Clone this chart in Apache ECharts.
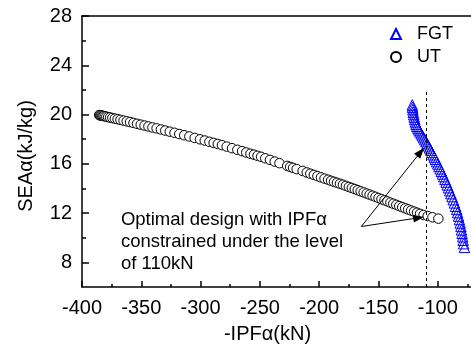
<!DOCTYPE html>
<html><head><meta charset="utf-8">
<script src="https://cdn.jsdelivr.net/npm/echarts@6/dist/echarts.min.js"></script>
<style>html,body{margin:0;padding:0;background:#fff}#c{width:471px;height:354px}</style>
</head><body><div id="c"></div>
<script>
// UT series
const utX = [-385.5,-385,-384.3,-383.6,-382.8,-381.9,-380.8,-379.5,-378,-376.3,-374.4,-372.3,-370,-367.6,-365,-362.3,-359.5,-356.6,-353.6,-350.5,-347.3,-344,-340.6,-337.1,-333.5,-329.8,-326,-322,-318,-313.8,-309.5,-305,-300.5,-296.5,-292.6,-289,-285.5,-282,-278,-273.5,-269,-265,-261.5,-258,-255,-252,-249,-245.5,-241.5,-237.5,-233.5,-227,-224.5,-222,-219,-214,-210.5,-207.5,-204.5,-201.5,-198.5,-195.5,-192.5,-190,-187.5,-185,-182.5,-180,-177.5,-175,-172.5,-170,-167.5,-165,-162.5,-160,-157.5,-155,-152.5,-150,-147.5,-145,-142.5,-140,-137.5,-135,-132.5,-130,-127.5,-125,-122.5,-120,-117.5,-115,-112,-108.5,-104.5,-99.5];
const utY = [19.96,19.95,19.93,19.92,19.9,19.88,19.86,19.83,19.79,19.76,19.72,19.67,19.62,19.57,19.51,19.45,19.39,19.32,19.25,19.18,19.11,19.03,18.95,18.88,18.79,18.7,18.61,18.52,18.42,18.32,18.22,18.1,17.99,17.89,17.79,17.7,17.61,17.52,17.4,17.27,17.14,17.03,16.92,16.82,16.74,16.65,16.57,16.45,16.32,16.18,16.05,15.83,15.75,15.67,15.57,15.42,15.3,15.2,15.1,15.0,14.9,14.8,14.71,14.62,14.54,14.46,14.38,14.3,14.21,14.12,14.04,13.95,13.86,13.77,13.68,13.59,13.5,13.41,13.32,13.22,13.13,13.04,12.95,12.85,12.76,12.67,12.57,12.48,12.39,12.3,12.21,12.12,12.03,11.94,11.85,11.76,11.66,11.55];
// FGT series
const fgtX = [-121.5,-121.3,-121.0,-120.7,-120.3,-119.9,-119.4,-118.9,-118.3,-117.6,-116.8,-115.9,-115.0,-114.0,-113.0,-112.0,-111.0,-110.0,-109.0,-108.0,-107.0,-106.0,-105.0,-104.0,-103.0,-102.0,-101.0,-100.0,-99.0,-98.0,-97.0,-96.0,-95.0,-94.0,-93.0,-92.0,-91.0,-90.0,-89.0,-88.0,-87.0,-86.0,-85.0,-84.1,-83.3,-82.5,-81.8,-81.1,-80.5,-80.0,-79.5,-79.0,-78.6,-78.2,-77.5];
const fgtY = [20.78,20.6,20.4,20.2,20.0,19.8,19.6,19.4,19.22,19.05,18.9,18.75,18.6,18.44,18.28,18.12,17.96,17.8,17.63,17.46,17.29,17.11,16.93,16.74,16.55,16.37,16.18,15.99,15.79,15.59,15.39,15.18,14.96,14.74,14.52,14.29,14.06,13.82,13.58,13.34,13.09,12.83,12.56,12.3,12.04,11.76,11.48,11.2,10.92,10.64,10.36,10.08,9.8,9.52,9.22];
// ticks
const xLabelTicks = [-400,-350,-300,-250,-200,-150,-100];
const xMinorTicks = [-375,-325,-275,-225,-175,-125,-75];
const yLabelTicks = [8,12,16,20,24,28];
const yMinorTicks = [10,14,18,22,26];
// annotations (data units)
const limitIPF = -110;
const limitTop = 21.85;
const arrowStart = [-164.5, 10.91];
const arrowEnds = [[-114.5, 16.96], [-116.1, 11.62]];
const noteAt = [-367.2, 9.67];
const noteText = 'Optimal design with IPF\u03b1\nconstrained under the level\nof 110kN';

const FONT = "'Liberation Sans', Arial, sans-serif";
const X_MIN = -400, X_MAX = -72, Y_MIN = 6, Y_MAX = 28;
const zip = (a, b) => a.map((v, i) => [v, b[i]]);

const chart = echarts.init(document.getElementById('c'), null, {renderer: 'canvas'});
const axLine = {show: true, lineStyle: {color: '#000', width: 1.5}};
chart.setOption({
  animation: false,
  backgroundColor: '#fff',
  grid: {left: 82, top: 16, width: 390, height: 271, containLabel: false},
  legend: {
    data: ['FGT', 'UT'], orient: 'vertical', left: 390, top: 25, padding: 0,
    itemWidth: 10, itemHeight: 10, itemGap: 5, symbolKeepAspect: true,
    textStyle: {fontFamily: FONT, fontSize: 18, color: '#000', padding: [0, 0, 0, 11]}
  },
  xAxis: [
    {type: 'value', min: X_MIN, max: X_MAX, position: 'bottom',
     axisLine: axLine, splitLine: {show: false},
     axisTick: {inside: true, length: 6, lineStyle: {color: '#000', width: 1.5}, customValues: xLabelTicks},
     axisLabel: {customValues: xLabelTicks, fontFamily: FONT, fontSize: 20, color: '#000', margin: 11},
     name: '-IPF\u03b1(kN)', nameLocation: 'middle', nameGap: 37,
     nameTextStyle: {fontFamily: FONT, fontSize: 20, color: '#000', padding: [0, 18, 0, 0]}},
    {type: 'value', min: X_MIN, max: X_MAX, position: 'bottom',
     axisLine: {show: false}, splitLine: {show: false},
     axisTick: {inside: true, length: 3, lineStyle: {color: '#000', width: 1.5}, customValues: xMinorTicks},
     axisLabel: {show: false}},
    {type: 'value', min: X_MIN, max: X_MAX, position: 'top',
     axisLine: axLine, splitLine: {show: false}, axisTick: {show: false}, axisLabel: {show: false}}
  ],
  yAxis: [
    {type: 'value', min: Y_MIN, max: Y_MAX, position: 'left',
     axisLine: axLine, splitLine: {show: false},
     axisTick: {inside: true, length: 7, lineStyle: {color: '#000', width: 1.5}, customValues: yLabelTicks},
     axisLabel: {customValues: yLabelTicks, fontFamily: FONT, fontSize: 20, color: '#000', margin: 10},
     name: 'SEA\u03b1(kJ/kg)', nameLocation: 'middle', nameGap: 46,
     nameTextStyle: {fontFamily: FONT, fontSize: 20, color: '#000', padding: [0, 9, 0, 0]}},
    {type: 'value', min: Y_MIN, max: Y_MAX, position: 'left',
     axisLine: {show: false}, splitLine: {show: false},
     axisTick: {inside: true, length: 4, lineStyle: {color: '#000', width: 1.5}, customValues: yMinorTicks},
     axisLabel: {show: false}}
  ],
  series: [
    {name: 'FGT', type: 'scatter', xAxisIndex: 0, yAxisIndex: 0,
     symbol: 'triangle', symbolSize: 10.5,
     itemStyle: {color: 'rgba(255,255,255,0)', borderColor: '#0000ff', borderWidth: 1, opacity: 1},
     emphasis: {disabled: true},
     data: zip(fgtX, fgtY)},
    {name: 'UT', type: 'scatter', xAxisIndex: 0, yAxisIndex: 0,
     symbol: 'circle', symbolSize: 9.5,
     itemStyle: {color: '#fff', borderColor: '#000', borderWidth: 1, opacity: 1},
     emphasis: {disabled: true},
     data: zip(utX, utY),
     markLine: {
       silent: true, animation: false,
       label: {show: false}, emphasis: {disabled: true},
       data: [
         [{coord: [limitIPF, Y_MIN], symbol: 'none', lineStyle: {type: [3, 3], color: '#000', width: 1}},
          {coord: [limitIPF, limitTop], symbol: 'none'}],
         [{coord: arrowStart, symbol: 'none', lineStyle: {type: 'solid', color: '#000', width: 1}},
          {coord: arrowEnds[0], symbol: 'triangle', symbolSize: [8, 11]}],
         [{coord: arrowStart, symbol: 'none', lineStyle: {type: 'solid', color: '#000', width: 1}},
          {coord: arrowEnds[1], symbol: 'triangle', symbolSize: [8, 11]}]
       ],
       itemStyle: {color: '#000'}
     },
     markPoint: {
       silent: true, animation: false,
       symbol: 'circle', symbolSize: 0,
       data: [{coord: noteAt, value: 0}],
       label: {show: true, position: [0, 0], align: 'left', verticalAlign: 'middle',
               formatter: () => noteText, fontFamily: FONT, fontSize: 18.5, color: '#000', lineHeight: 22.3}
     }}
  ]
});
</script></body></html>
